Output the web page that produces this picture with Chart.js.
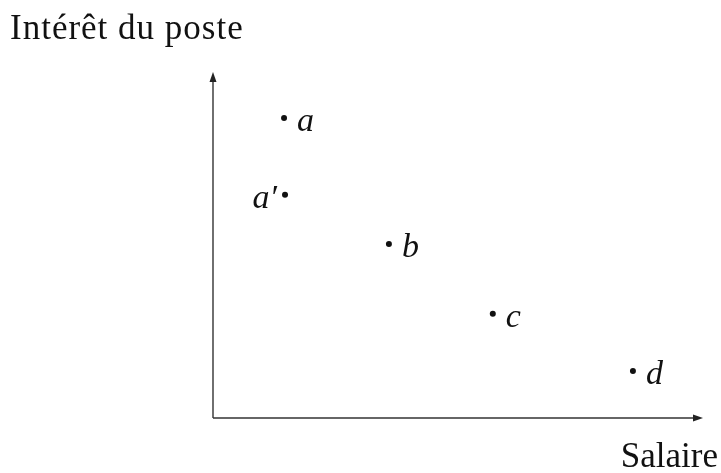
<!DOCTYPE html>
<html>
<head>
<meta charset="utf-8">
<script src="https://cdn.jsdelivr.net/npm/chart.js@4.4.0/dist/chart.umd.min.js"></script>
<style>
  html, body { margin: 0; padding: 0; background: #fff; }
  #wrap { width: 721px; height: 473px; }
</style>
</head>
<body>
<div id="wrap"><canvas id="chart"></canvas></div>
<script>
// données (échelle arbitraire 0..10)
const pointNames = ['a', 'a′', 'b', 'c', 'd'];
const salaire = [1.45, 1.47, 3.59, 5.71, 8.57];
const interet = [8.67, 6.45, 5.03, 3.01, 1.36];
const xTitle = 'Salaire';
const yTitle = 'Intérêt du poste';

// côté de l'étiquette par rapport au point
const labelSide = ['right', 'left', 'right', 'right', 'right'];

const points = salaire.map((x, i) => ({ x: x, y: interet[i] }));

// axes avec flèches + étiquettes des points
const decorPlugin = {
  id: 'decor',
  afterDatasetsDraw(chart) {
    const { ctx, chartArea: ca } = chart;
    ctx.save();
    ctx.strokeStyle = '#333';
    ctx.fillStyle = '#222';
    ctx.lineWidth = 1.4;
    // axe x
    ctx.beginPath();
    ctx.moveTo(ca.left, ca.bottom);
    ctx.lineTo(ca.right - 6, ca.bottom);
    ctx.stroke();
    ctx.beginPath();
    ctx.moveTo(ca.right, ca.bottom);
    ctx.lineTo(ca.right - 10, ca.bottom - 3.5);
    ctx.lineTo(ca.right - 10, ca.bottom + 3.5);
    ctx.closePath();
    ctx.fill();
    // axe y
    ctx.beginPath();
    ctx.moveTo(ca.left, ca.bottom);
    ctx.lineTo(ca.left, ca.top + 6);
    ctx.stroke();
    ctx.beginPath();
    ctx.moveTo(ca.left, ca.top);
    ctx.lineTo(ca.left - 3.5, ca.top + 10);
    ctx.lineTo(ca.left + 3.5, ca.top + 10);
    ctx.closePath();
    ctx.fill();

    // titres
    ctx.fillStyle = '#111';
    ctx.font = '35px "Liberation Serif", serif';
    ctx.textBaseline = 'alphabetic';
    ctx.textAlign = 'left';
    ctx.letterSpacing = '1px';
    ctx.fillText(yTitle, 10, 39);
    ctx.textAlign = 'right';
    ctx.letterSpacing = '0px';
    ctx.fillText(xTitle, 718, 467);

    // étiquettes
    const meta = chart.getDatasetMeta(0);
    ctx.font = 'italic 34px "Liberation Serif", serif';
    meta.data.forEach((el, i) => {
      if (labelSide[i] === 'left') {
        ctx.textAlign = 'right';
        ctx.fillText(pointNames[i], el.x - 8, el.y + 13);
      } else {
        ctx.textAlign = 'left';
        ctx.fillText(pointNames[i], el.x + 13, el.y + 13);
      }
    });
    ctx.restore();
  }
};

new Chart(document.getElementById('chart'), {
  type: 'scatter',
  data: {
    datasets: [{
      data: points,
      pointRadius: 3,
      pointHoverRadius: 3,
      pointBackgroundColor: '#111',
      pointBorderWidth: 0
    }]
  },
  options: {
    responsive: true,
    maintainAspectRatio: false,
    animation: false,
    layout: { padding: { left: 213, right: 18, top: 72, bottom: 55 } },
    plugins: {
      legend: { display: false },
      tooltip: { enabled: false }
    },
    scales: {
      x: { type: 'linear', min: 0, max: 10, display: false },
      y: { type: 'linear', min: 0, max: 10, display: false }
    }
  },
  plugins: [decorPlugin]
});
</script>
</body>
</html>
